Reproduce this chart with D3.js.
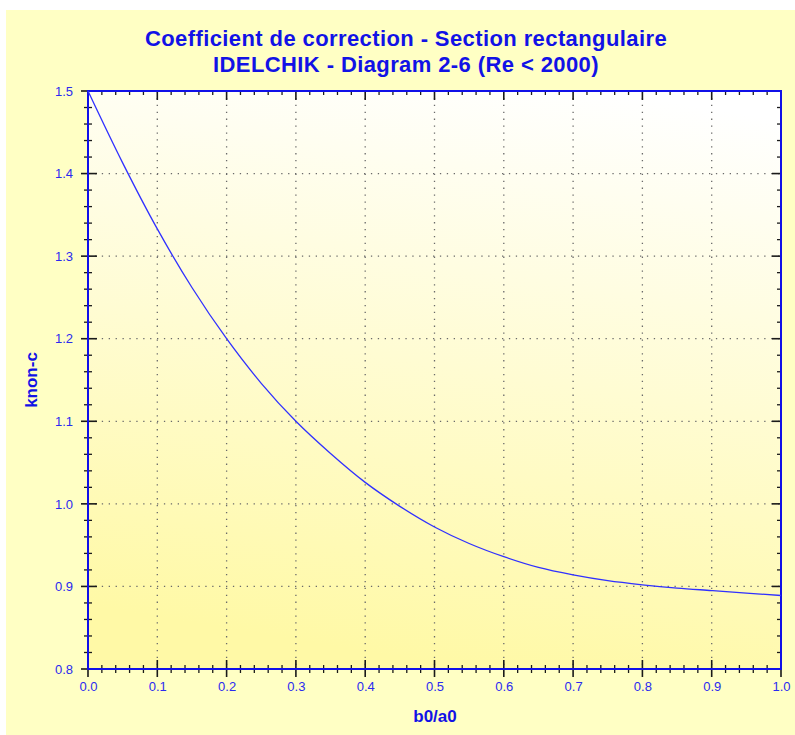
<!DOCTYPE html>
<html>
<head>
<meta charset="utf-8">
<script src="https://cdn.jsdelivr.net/npm/d3@7"></script>
<style>
  body { margin: 0; background: #fff; }
  text { font-family: "Liberation Sans", Arial, sans-serif; }
</style>
</head>
<body>
<div id="chart"></div>
<script>
// data
var ratio = [0, 0.05, 0.1, 0.15, 0.2, 0.25, 0.3, 0.35, 0.4, 0.45, 0.5,
             0.55, 0.6, 0.65, 0.7, 0.75, 0.8, 0.85, 0.9, 0.95, 1.0];
var knon = [1.500, 1.413, 1.333, 1.262, 1.200, 1.146, 1.100, 1.061, 1.026, 0.997, 0.972,
            0.952, 0.936, 0.923, 0.914, 0.907, 0.902, 0.898, 0.895, 0.892, 0.889];
var xTicks = [0, 0.1, 0.2, 0.3, 0.4, 0.5, 0.6, 0.7, 0.8, 0.9, 1.0];
var yTicks = [0.8, 0.9, 1.0, 1.1, 1.2, 1.3, 1.4, 1.5];
var titleLines = ["Coefficient de correction - Section rectangulaire",
                  "IDELCHIK - Diagram 2-6 (Re < 2000)"];

var svgWidth = 795;
var svgHeight = 735;
var margin = { top: 91, right: 14, bottom: 66, left: 88 };
var width = 781 - margin.left;
var height = 669 - margin.top;

var svg = d3.select("#chart")
  .append("svg")
  .attr("width", svgWidth)
  .attr("height", svgHeight);

var defs = svg.append("defs");
var grad = defs.append("linearGradient")
  .attr("id", "plotGrad")
  .attr("x1", "0.75").attr("y1", "0")
  .attr("x2", "0.55").attr("y2", "1");
grad.append("stop").attr("offset", "0").attr("stop-color", "#ffffff");
grad.append("stop").attr("offset", "1").attr("stop-color", "#fff9a6");

// outer background
svg.append("rect")
  .attr("x", 6).attr("y", 10)
  .attr("width", svgWidth - 6).attr("height", svgHeight - 10)
  .attr("fill", "#ffffc4");

var chartGroup = svg.append("g")
  .attr("transform", `translate(${margin.left}, ${margin.top})`);

// scales
var xScale = d3.scaleLinear().domain([0, 1]).range([0, width]);
var yScale = d3.scaleLinear().domain([0.8, 1.5]).range([height, 0]);

chartGroup.append("rect")
  .attr("width", width).attr("height", height)
  .attr("fill", "url(#plotGrad)");

// grid
var gridColor = "#6a6a6a";
chartGroup.append("g")
  .selectAll("line")
  .data(xTicks.slice(1, -1))
  .enter().append("line")
  .attr("x1", d => xScale(d)).attr("x2", d => xScale(d))
  .attr("y1", 0).attr("y2", height)
  .attr("stroke", gridColor)
  .attr("stroke-width", 1.3)
  .attr("stroke-dasharray", "1.3,5.6");

chartGroup.append("g")
  .selectAll("line")
  .data(yTicks.slice(1, -1))
  .enter().append("line")
  .attr("x1", 0).attr("x2", width)
  .attr("y1", d => yScale(d)).attr("y2", d => yScale(d))
  .attr("stroke", gridColor)
  .attr("stroke-width", 1.3)
  .attr("stroke-dasharray", "1.3,5.6");

// ticks (major cross the axis, minor in between)
var xMinor = d3.range(0, 51).map(i => i / 50).filter(v => Math.round(v * 50) % 5 !== 0);
var yMinor = d3.range(0, 36).map(i => 0.8 + i / 50).filter((v, i) => i % 5 !== 0);
var tickColor = "#1a1a1a";

function tickLines(data, x1, x2, y1, y2, w) {
  chartGroup.append("g")
    .selectAll("line")
    .data(data)
    .enter().append("line")
    .attr("x1", x1).attr("x2", x2)
    .attr("y1", y1).attr("y2", y2)
    .attr("stroke", tickColor)
    .attr("stroke-width", w);
}
// bottom
tickLines(xTicks, d => xScale(d), d => xScale(d), height - 9, height + 8, 1.6);
tickLines(xMinor, d => xScale(d), d => xScale(d), height - 4, height + 4, 1.3);
// top
tickLines(xTicks, d => xScale(d), d => xScale(d), 0, 9, 1.6);
tickLines(xMinor, d => xScale(d), d => xScale(d), 0, 4, 1.3);
// left
tickLines(yTicks, -7, 9, d => yScale(d), d => yScale(d), 1.6);
tickLines(yMinor, -4, 4, d => yScale(d), d => yScale(d), 1.3);
// right
tickLines(yTicks, width - 9, width, d => yScale(d), d => yScale(d), 1.6);
tickLines(yMinor, width - 4, width, d => yScale(d), d => yScale(d), 1.3);

// frame
chartGroup.append("rect")
  .attr("width", width).attr("height", height)
  .attr("fill", "none")
  .attr("stroke", "#1010e8")
  .attr("stroke-width", 2);

// axes labels via d3 axes (lines hidden, only text)
var bottomAxis = d3.axisBottom(xScale).tickValues(xTicks).tickFormat(d3.format(".1f")).tickSize(0).tickPadding(13);
var leftAxis = d3.axisLeft(yScale).tickValues(yTicks).tickFormat(d3.format(".1f")).tickSize(0).tickPadding(15);

var gx = chartGroup.append("g")
  .attr("transform", `translate(0, ${height})`)
  .call(bottomAxis);
var gy = chartGroup.append("g").call(leftAxis);
[gx, gy].forEach(function (g) {
  g.select(".domain").remove();
  g.selectAll("text")
    .attr("fill", "#2a2af0")
    .style("font-size", "13px")
    .style("font-family", "'Liberation Sans', Arial, sans-serif");
});

// curve
var points = ratio.map((r, i) => [r, knon[i]]);
var line = d3.line()
  .x(d => xScale(d[0]))
  .y(d => yScale(d[1]))
  .curve(d3.curveCatmullRom);

chartGroup.append("path")
  .datum(points)
  .attr("d", line)
  .attr("fill", "none")
  .attr("stroke", "#3030ff")
  .attr("stroke-width", 1.3);

// titles
svg.selectAll(".title")
  .data(titleLines)
  .enter().append("text")
  .attr("class", "title")
  .attr("x", 406)
  .attr("y", (d, i) => 46 + i * 26)
  .attr("text-anchor", "middle")
  .style("font-size", "22px")
  .style("letter-spacing", "0.4px")
  .style("font-weight", "bold")
  .attr("fill", "#1212e6")
  .text(d => d);

svg.append("text")
  .attr("x", 435)
  .attr("y", 722)
  .attr("text-anchor", "middle")
  .style("font-size", "17px")
  .style("font-weight", "bold")
  .attr("fill", "#1212e6")
  .text("b0/a0");

svg.append("text")
  .attr("transform", "translate(37, 380) rotate(-90)")
  .attr("text-anchor", "middle")
  .style("font-size", "17px")
  .style("font-weight", "bold")
  .attr("fill", "#1212e6")
  .text("knon-c");
</script>
</body>
</html>
